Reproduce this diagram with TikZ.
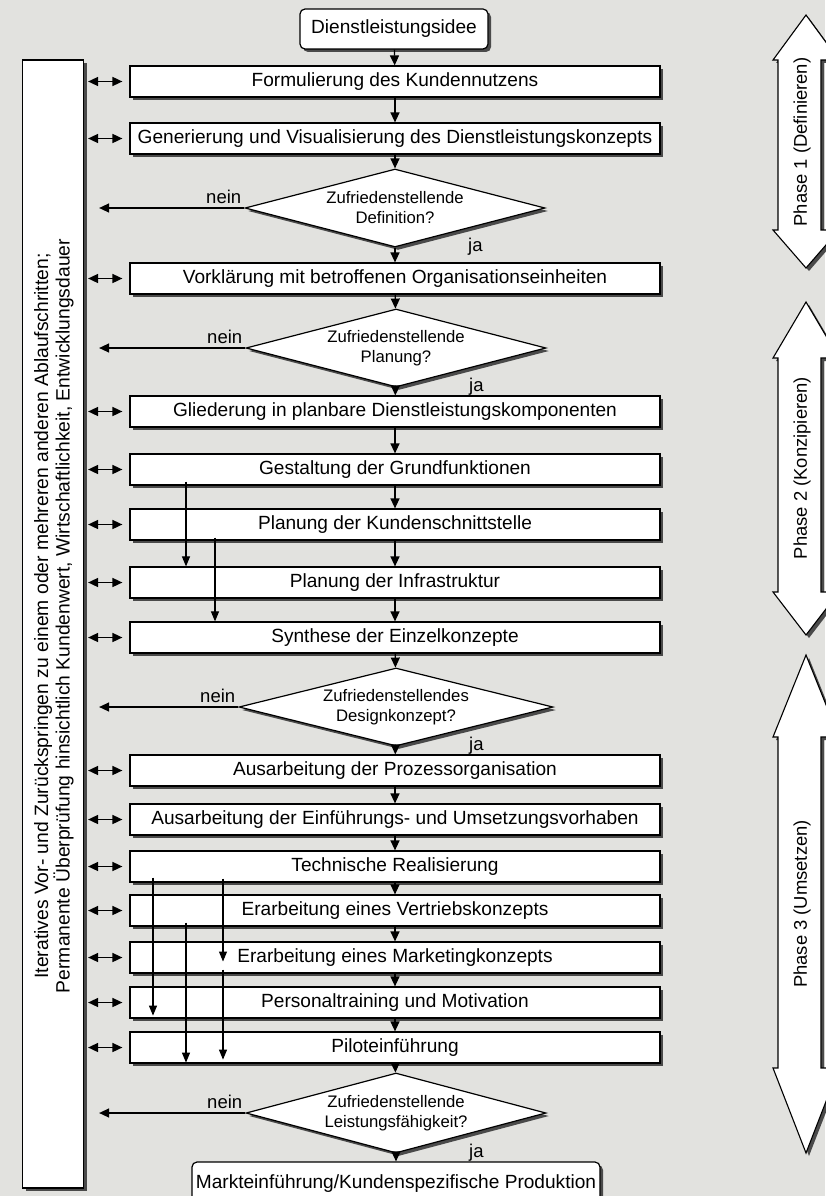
\documentclass[tikz,border=0pt]{standalone}
\usepackage{fontspec}
\setmainfont{Liberation Sans}
\usetikzlibrary{shapes.geometric,arrows.meta,shadows,calc}
\definecolor{paper}{HTML}{E2E2DF}
\definecolor{shade}{HTML}{4A4A4A}
\begin{document}
\begin{tikzpicture}[x=1pt,y=-1pt,
  shad/.style={general shadow={fill=shade, shadow xshift=3pt, shadow yshift=-3pt}},
  stepbox/.style={draw=black, line width=1.2pt, fill=white, shad,
    minimum width=530pt, minimum height=31pt, inner sep=0pt,
    font=\fontsize{19.1}{22}\selectfont},
  endbox/.style={draw=black, line width=1.2pt, fill=white, shad, rounded corners=5pt,
    minimum height=40pt, inner sep=0pt, font=\fontsize{19.1}{22}\selectfont},
  decision/.style={diamond, draw=black, line width=1.2pt, fill=white, shad,
    minimum width=300pt, minimum height=78pt, inner sep=0pt},
  dtext/.style={align=center, inner sep=0pt, font=\fontsize{16.7}{20}\selectfont},
  lbl/.style={inner sep=0pt, font=\fontsize{18.5}{22}\selectfont},
  flow/.style={draw=black, line width=1.3pt, -{Triangle[length=10pt,width=9pt]}},
  skip/.style={draw=black, line width=1.1pt, -{Triangle[length=10pt,width=8pt]}},
  both/.style={draw=black, line width=1.6pt,
    {Triangle[length=10pt,width=9pt]}-{Triangle[length=10pt,width=9pt]},
    shorten <=4pt, shorten >=7pt},
  back/.style={draw=black, line width=1.4pt, -{Triangle[length=10pt,width=9pt]}, shorten >=15pt},
  phase/.style={draw=black, line width=1.1pt, fill=white, shad},
  ptext/.style={rotate=90, inner sep=0pt, font=\fontsize{18.4}{22}\selectfont}
]
\useasboundingbox (0,0) rectangle (825,1196);
\fill[paper] (0,0) rectangle (825,1196);

% left frame with the two remarks
\node[draw=black, line width=1.2pt, fill=white, shad, minimum width=61pt,
  minimum height=1128pt, inner sep=0pt] (lb) at (53,624) {};
\node[rotate=90, align=center, inner sep=0pt, font=\fontsize{19.3}{21.5}\selectfont] (lbt) at (54,616)
  {Iteratives Vor- und Zurückspringen zu einem oder mehreren anderen Ablaufschritten;\\
   Permanente Überprüfung hinsichtlich Kundenwert, Wirtschaftlichkeit, Entwicklungsdauer};

% phase arrows on the right
\draw[phase] (806,15) -- (839,60) -- (821,60) -- (821,230) -- (839,230) -- (806,268)
  -- (773,230) -- (778,230) -- (778,60) -- (773,60) -- cycle;
\draw[phase] (806,302) -- (839,358) -- (821,358) -- (821,592) -- (839,592) -- (806,635)
  -- (773,592) -- (778,592) -- (778,358) -- (773,358) -- cycle;
\draw[phase] (806,655) -- (839,737) -- (821,737) -- (821,1068) -- (839,1068) -- (806,1153)
  -- (773,1068) -- (778,1068) -- (778,737) -- (773,737) -- cycle;
\node[ptext] (p1) at (802,142) {Phase 1 (Definieren)};
\node[ptext] (p2) at (802,468) {Phase 2 (Konzipieren)};
\node[ptext] (p3) at (802,904) {Phase 3 (Umsetzen)};

% process steps
\node[endbox, minimum width=188pt] (idee) at (394,29) {Dienstleistungsidee};
\node[stepbox] (s1) at (395,81.5) {Formulierung des Kundennutzens};
\node[stepbox] (s2) at (395,138.5) {Generierung und Visualisierung des Dienstleistungskonzepts};
\node[decision] (d1) at (395,208) {};
\node[dtext] (d1t) at (d1) {Zufriedenstellende\\Definition?};
\node[stepbox] (s3) at (395,278.5) {Vorklärung mit betroffenen Organisationseinheiten};
\node[decision] (d2) at (396,348) {};
\node[dtext] (d2t) at (d2) {Zufriedenstellende\\Planung?};
\node[stepbox] (s4) at (395,411.5) {Gliederung in planbare Dienstleistungskomponenten};
\node[stepbox] (s5) at (395,469.5) {Gestaltung der Grundfunktionen};
\node[stepbox] (s6) at (395,524.5) {Planung der Kundenschnittstelle};
\node[stepbox] (s7) at (395,582.5) {Planung der Infrastruktur};
\node[stepbox] (s8) at (395,637.5) {Synthese der Einzelkonzepte};
\node[decision, minimum width=314pt] (d3) at (396,707) {};
\node[dtext] (d3t) at (d3) {Zufriedenstellendes\\Designkonzept?};
\node[stepbox] (s9) at (395,770.5) {Ausarbeitung der Prozessorganisation};
\node[stepbox] (s10) at (395,819.5) {Ausarbeitung der Einführungs- und Umsetzungsvorhaben};
\node[stepbox] (s11) at (395,866.5) {Technische Realisierung};
\node[stepbox] (s12) at (395,910.5) {Erarbeitung eines Vertriebskonzepts};
\node[stepbox] (s13) at (395,957.5) {Erarbeitung eines Marketingkonzepts};
\node[stepbox] (s14) at (395,1002.5) {Personaltraining und Motivation};
\node[stepbox] (s15) at (395,1047.5) {Piloteinführung};
\node[decision, minimum height=80pt] (d4) at (396,1113) {};
\node[dtext] (d4t) at (d4) {Zufriedenstellende\\Leistungsfähigkeit?};
\node[endbox, minimum width=408pt, minimum height=44pt] (markt) at (396,1184)
  {Markteinführung/Kundenspezifische Produktion};

% main flow
\draw[flow] (idee) -- (s1);
\draw[flow] (s1) -- (s2);
\draw[flow] (s2) -- (d1);
\draw[flow] (d1) -- (s3);
\draw[flow] (s3) -- (d2);
\draw[flow] (d2) -- (s4);
\draw[flow] (s4) -- (s5);
\draw[flow] (s5) -- (s6);
\draw[flow] (s6) -- (s7);
\draw[flow] (s7) -- (s8);
\draw[flow] (s8) -- (d3);
\draw[flow] (d3) -- (s9);
\draw[flow] (s9) -- (s10);
\draw[flow] (s10) -- (s11);
\draw[flow] (s11) -- (s12);
\draw[flow] (s12) -- (s13);
\draw[flow] (s13) -- (s14);
\draw[flow] (s14) -- (s15);
\draw[flow] (s15) -- (d4);
\draw[flow] (d4) -- (markt);

% links to the left frame
\foreach \s in {s1,s2,s3,s4,s5,s6,s7,s8,s9,s10,s11,s12,s13,s14,s15}
  \draw[both] (lb.east |- \s.west) -- (\s.west);
\foreach \d in {d1,d2,d3,d4} {
  \draw[back] (\d.west) -- (lb.east |- \d.west);
  \node[lbl, anchor=base east] at ($(\d.west)+(-3,-5)$) {nein};
  \node[lbl, anchor=base west] at ($(\d.south)+(73,4)$) {ja};
}

% parallel paths between steps
\coordinate (xa) at (153,0);
\coordinate (xb) at (186,0);
\coordinate (xc) at (215,0);
\coordinate (xd) at (223,0);
\draw[skip] ($(s5.south -| xb)+(0,-4)$) -- (s7.north -| xb);
\draw[skip] ($(s6.south -| xc)+(0,-3)$) -- (s8.north -| xc);
\draw[skip] ($(s11.south -| xa)+(0,-5)$) -- ($(s14.south -| xa)+(0,-3)$);
\draw[skip] ($(s11.south -| xd)+(0,-4)$) -- ($(s13.center -| xd)+(0,4)$);
\draw[skip] ($(s12.south -| xb)+(0,-4)$) -- ($(s15.south -| xb)+(0,-1)$);
\draw[skip] ($(s13.south -| xd)+(0,-4)$) -- ($(s15.south -| xd)+(0,-4)$);
\end{tikzpicture}
\end{document}
